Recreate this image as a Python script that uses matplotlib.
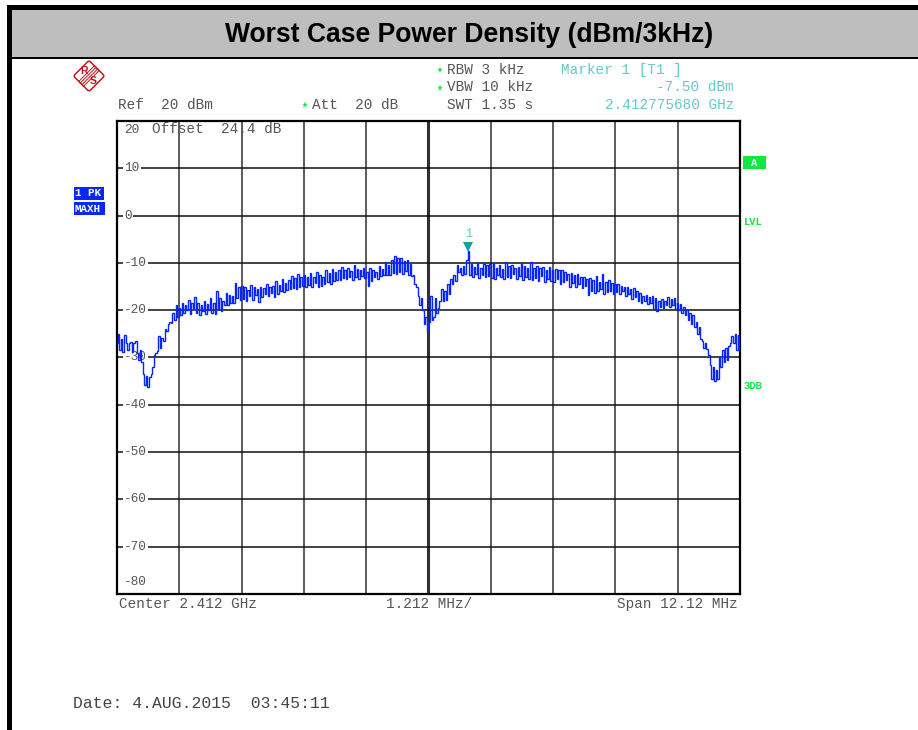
"""
Worst case power density plot, spectrum analyzer screenshot style
"""

import matplotlib
matplotlib.use('Agg')
import matplotlib.pyplot as plt
import matplotlib.patches as mpatches
import matplotlib.transforms as mtransforms
import numpy as np

W, H = 918, 730

# Trace 1, one row per grid division (dBm)
trace = [
    -27, -25, -28.5, -26, -28.8, -25.2, -27, -28.5, -27, -26.8, -28.8, -27, -26.5, -29, -30.5, -28.5, -31, -33.5, -35.8, -34, -36.3, -34.2, -33.5, -32, -29.5, -29, -28.6, -25.5, -28, -25.8, -26.5, -24, -24.5, -23, -22.5, -22.8, -20.5, -22, -18.8, -21.5,
    -19.5, -21, -18.5, -20.5, -19, -20, -17.8, -20.8, -18.5, -19.5, -17.3, -20.5, -18.5, -21, -19, -20.2, -18, -20.8, -18.6, -20, -17.5, -20.5, -18.4, -20.8, -16, -19.8, -17.5, -20.2, -18, -19, -16.4, -18.8, -16.8, -18.5, -17, -18.4, -14.2, -17.5, -15.2, -17.8,
    -14.8, -17.6, -15.2, -18, -15.8, -17, -14.6, -17.8, -15.2, -16.8, -15.6, -18.2, -15, -17.3, -15.4, -16.5, -14.5, -17, -15, -16.4, -14.8, -17.2, -13.8, -16.6, -14.6, -16, -13.4, -16.2, -14.2, -15.8, -13.6, -15.6, -12.8, -15.4, -13.2, -15.6, -12.4, -15.2, -13, -14.8,
    -12.6, -15.2, -13, -14.6, -12.2, -15, -13, -14.2, -12, -15, -12.6, -14.8, -13, -14.4, -11.6, -14, -12.2, -14.4, -11.2, -13.8, -12, -13.6, -11.4, -13.6, -10.8, -13.2, -11.6, -13.4, -11, -13, -11.8, -13.6, -10.4, -13, -11.2, -13.4, -11.6, -12.8, -11, -13.2,
    -12, -14.8, -11, -13.8, -11.6, -13, -12, -13.4, -10.6, -12.8, -11.2, -12.6, -9.8, -12.5, -10.4, -12.6, -9.4, -12.2, -8.6, -12.4, -9, -12, -8.9, -12.3, -9.6, -11.8, -9.4, -12.5, -10.2, -12.8, -12.5, -14.5, -15, -17, -18.8, -17.5, -20, -23, -21.5, -24.4,
    -22.5, -17, -22, -21.5, -17.5, -20.5, -19.5, -18, -15.5, -18, -16, -17.8, -14.5, -16.5, -13.5, -14.5, -12.5, -13.8, -10.5, -12, -11, -12.5, -10.6, -12.4, -9.4, -7.5, -12.6, -10.2, -13, -10.8, -12.4, -10, -13.2, -11, -12.6, -10.2, -13, -10.5, -12.8, -10.2,
    -13.2, -10, -13.5, -11, -12.6, -10.4, -13, -11.2, -13.4, -9.8, -13, -10.6, -13.2, -10.4, -12.4, -11, -13.5, -10.8, -12.8, -10, -13.6, -10.6, -13, -11, -13.4, -9.8, -13.6, -11, -13.2, -10.6, -13.8, -11, -12.8, -10.8, -14, -11.4, -13.4, -10.8, -13.8, -11.4,
    -14, -11.2, -13.4, -11.6, -14.4, -11.4, -14, -12, -13.6, -12.4, -15, -12.2, -14.2, -12.6, -15, -12.4, -14.4, -13, -15.4, -13, -14.8, -13.4, -16.8, -13.2, -16, -13.6, -16.4, -12.8, -16, -14, -15.6, -12.4, -16.6, -14, -16.2, -13.6, -16, -14.2, -16.5, -14.4,
    -16.2, -14.4, -16.6, -14.8, -16, -15, -17, -15, -16.6, -15.6, -17.6, -15.4, -17.2, -16, -18, -16.4, -18.4, -17, -18, -16.8, -18.6, -17.2, -18.4, -17, -19.8, -17.4, -20.2, -18, -19.4, -17.6, -19.6, -18, -19, -17.3, -19.4, -17.6, -18.8, -17.5, -19.8, -18.4,
    -20, -18.6, -20.6, -19.4, -21, -20, -22, -20.6, -23, -21, -23.6, -22.4, -25, -23.6, -26, -26.6, -28, -27, -28.2, -29.5, -31.5, -34.5, -32, -35, -32.6, -34.6, -30, -32, -28.5, -31, -28, -30.5, -27.5, -27, -25.5, -27, -25, -28.5, -25.2, -28.5,
]
span_mhz = 12.12
marker_mhz = 0.77568
marker_dbm = -7.50
level_ticks = [20, 10, 0, -10, -20, -30, -40, -50, -60, -70, -80]
freq_ticks = [-6.06, -4.848, -3.636, -2.424, -1.212, 0, 1.212, 2.424, 3.636, 4.848, 6.06]

title = 'Worst Case Power Density (dBm/3kHz)'
grey = '#555555'
teal = '#66c8c8'
green = '#10e840'
blue = '#0a28f5'
red = '#c01818'
mono = 'Liberation Mono'

fig = plt.figure(figsize=(W / 100, H / 100), dpi=100, facecolor='white')

# Page overlay in pixel coordinates, y down
page = fig.add_axes([0, 0, 1, 1], zorder=2)
page.set_xlim(0, W)
page.set_ylim(H, 0)
page.axis('off')
page.patch.set_alpha(0)

page.add_patch(mpatches.Rectangle((7, 5), W, 54, facecolor='black', edgecolor='none'))
page.add_patch(mpatches.Rectangle((12, 10), W, 47, facecolor='#bebebe', edgecolor='none'))
page.add_patch(mpatches.Rectangle((7, 5), 5, H, facecolor='black', edgecolor='none'))
page.text(469, 35, title, fontsize=19.1, fontweight='bold', family='Liberation Sans',
          ha='center', va='center', color='black')


def label(x, y, s, color=grey, ha='left', size=10.4, **kw):
    page.text(x, y, s, fontsize=size, family=mono, color=color, ha=ha, va='center', **kw)


label(118, 105, 'Ref  20 dBm')
label(312, 105, 'Att  20 dB')
label(447, 70, 'RBW 3 kHz')
label(447, 87, 'VBW 10 kHz')
label(447, 105, 'SWT 1.35 s')
label(561, 70, 'Marker 1 [T1 ]', color=teal)
label(734, 87, '-7.50 dBm', color=teal, ha='right')
label(734, 105, '2.412775680 GHz', color=teal, ha='right')
label(119, 604, 'Center 2.412 GHz')
label(429, 604, '1.212 MHz/', ha='center')
label(738, 604, 'Span 12.12 MHz', ha='right')
label(73, 703, 'Date: 4.AUG.2015  03:45:11', color='#444444', size=11.8)

# Setting stars
for sx, sy in [(440, 70), (440, 88), (305, 105)]:
    page.plot(sx, sy, marker='*', markersize=5, color=green, markeredgewidth=0)

# Side badges
page.add_patch(mpatches.Rectangle((74, 187), 30, 13, facecolor=blue, edgecolor='none'))
page.add_patch(mpatches.Rectangle((74, 202), 31, 13, facecolor=blue, edgecolor='none'))
label(75, 193.5, '1 PK', color='white', size=7.8, fontweight='bold')
label(74.5, 208.5, 'MAXH', color='white', size=7.8, fontweight='bold')
page.add_patch(mpatches.Rectangle((743, 156), 23, 13, facecolor=green, edgecolor='none'))
label(754.5, 162.5, 'A', color='white', ha='center', size=7.5, fontweight='bold')
label(744, 222, 'LVL', color=green, size=7.6, fontweight='bold')
label(744, 386, '3DB', color=green, size=7.6, fontweight='bold')

# R&S logo, a rotated square with stripes between the two letters
logo_rot = mtransforms.Affine2D().rotate_deg_around(89, 76, 45) + page.transData
page.add_patch(mpatches.FancyBboxPatch((78, 65), 22, 22, boxstyle='round,pad=0,rounding_size=2',
                                       facecolor='white', edgecolor=red, linewidth=1.1,
                                       transform=logo_rot))
for off in [-2.4, -0.8, 0.8, 2.4]:
    page.plot([81 + off, 97 + off], [84 + off, 68 + off], color=red, lw=0.7)
page.text(84, 70.5, 'R', fontsize=7.5, fontweight='bold', color=red, ha='center', va='center', family='Liberation Sans')
page.text(93.5, 81, 'S', fontsize=7.5, fontweight='bold', color=red, ha='center', va='center', family='Liberation Sans')

# Measurement grid
x0, x1, y0, y1 = 117, 740, 121, 594
ax = fig.add_axes([x0 / W, 1 - y1 / H, (x1 - x0) / W, (y1 - y0) / H], zorder=1)
ax.set_xlim(-span_mhz / 2, span_mhz / 2)
ax.set_ylim(-80, 20)
ax.set_xticks([])
ax.set_yticks([])
for spine in ax.spines.values():
    spine.set_linewidth(1.6)
    spine.set_color('black')

for f in freq_ticks[1:-1]:
    ax.axvline(f, color='#303030', linewidth=2.2 if f == 0 else 1.1, zorder=1)
for lv in level_ticks[1:-1]:
    ax.axhline(lv, color='#101010', linewidth=1.1, zorder=1)

# Level labels sit in gaps of the grid lines
for lv in level_ticks:
    ypos = lv - 1.9 if lv == 20 else (lv + 2.5 if lv == -80 else lv)
    ax.annotate(str(lv), xy=(-span_mhz / 2, ypos), xytext=(7, 0), textcoords='offset pixels',
                fontsize=9.2, family=mono, color=grey, va='center', ha='left', zorder=2,
                bbox=dict(facecolor='white', edgecolor='none', pad=1.0))

ax.text(-5.38, 18.4, 'Offset  24.4 dB', fontsize=10.4, family=mono, color=grey, va='center', ha='left', zorder=2)

freq = np.linspace(-span_mhz / 2, span_mhz / 2, len(trace))
ax.plot(freq, trace, color='#0824ff', linewidth=1.0, drawstyle='steps-mid', solid_joinstyle='miter', zorder=3)

# Marker 1
ax.plot(marker_mhz, marker_dbm + 0.8, marker='v', markersize=7, color='#12a0a0', markeredgewidth=0, clip_on=False, zorder=4)
ax.text(marker_mhz, marker_dbm + 3.7, '1', fontsize=8.5, family=mono, color=teal, ha='center', va='center', zorder=4)

fig.savefig('out.png', dpi=100, facecolor='white')
plt.close(fig)
